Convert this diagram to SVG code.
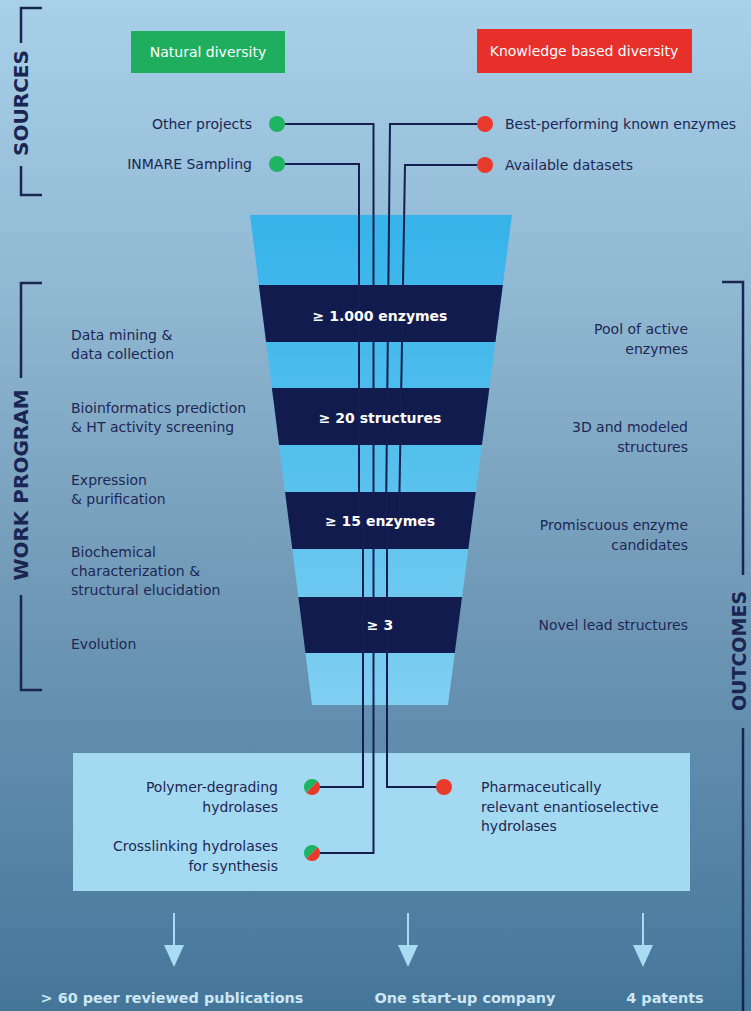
<svg xmlns="http://www.w3.org/2000/svg" width="751" height="1011" viewBox="0 0 751 1011">
<defs>
<linearGradient id="bg" x1="0" y1="0" x2="0" y2="1">
<stop offset="0" stop-color="#a8d0e9"/>
<stop offset="0.3" stop-color="#8fb7d2"/>
<stop offset="0.6" stop-color="#6f98b6"/>
<stop offset="1" stop-color="#44769a"/>
</linearGradient>
<linearGradient id="fun" x1="0" y1="0" x2="0" y2="1">
<stop offset="0" stop-color="#36b3ea"/>
<stop offset="0.5" stop-color="#55c0ee"/>
<stop offset="1" stop-color="#80cff1"/>
</linearGradient>
<clipPath id="funclip"><polygon points="250,215 512,215 448,705 312,705"/></clipPath>
<style>
.lbl{font-family:"DejaVu Sans",sans-serif;font-size:14px;fill:#1d2754}
.hdr{font-family:"DejaVu Sans",sans-serif;font-size:20px;font-weight:bold;fill:#1b2552}
.band{font-family:"DejaVu Sans",sans-serif;font-size:14px;font-weight:bold;fill:#ffffff;text-anchor:middle}
.wht{font-family:"DejaVu Sans",sans-serif;font-size:14px;fill:#ffffff;text-anchor:middle}
.out{font-family:"DejaVu Sans",sans-serif;font-size:14.4px;font-weight:bold;fill:#cde6f5;text-anchor:middle}
.br{fill:none;stroke:#1b2552;stroke-width:2.5}
.con{fill:none;stroke:#141e50;stroke-width:2}
.dk{fill:#121b4d}
.g{fill:#1fb464}
.r{fill:#e83a2a}
.arr{stroke:#a8dcf2;stroke-width:2;fill:none}
.ah{fill:#a8dcf2}
</style>
</defs>
<rect x="0" y="0" width="751" height="1011" fill="url(#bg)"/>

<g id="sources-bracket">
<path class="br" d="M42,8 H21 V43 M21,166 V195 H42"/>
<text class="hdr" transform="translate(28,103) rotate(-90)" text-anchor="middle">SOURCES</text>
</g>
<g id="workprogram-bracket">
<path class="br" d="M42,283 H21 V378 M21,595 V690 H42"/>
<text class="hdr" transform="translate(28,485) rotate(-90)" text-anchor="middle">WORK PROGRAM</text>
</g>
<g id="outcomes-bracket">
<path class="br" d="M722,282 H743 V575 M743,728 V1011"/>
<text class="hdr" transform="translate(746,651) rotate(-90)" text-anchor="middle" style="font-size:19px">OUTCOMES</text>
</g>

<g id="natural-diversity">
<rect x="131" y="31" width="154" height="42" fill="#1fae5d"/>
<text class="wht" x="208" y="57">Natural diversity</text>
</g>
<g id="knowledge-diversity">
<rect x="477" y="29" width="215" height="44" fill="#e8302a"/>
<text class="wht" x="584" y="56">Knowledge based diversity</text>
</g>

<g id="funnel">
<polygon points="250,215 512,215 448,705 312,705" fill="url(#fun)"/>
<g clip-path="url(#funclip)">
<rect class="dk" x="240" y="285" width="280" height="57"/>
<rect class="dk" x="240" y="388" width="280" height="57"/>
<rect class="dk" x="240" y="492" width="280" height="57"/>
<rect class="dk" x="240" y="597" width="280" height="56"/>
</g>
</g>

<g id="outcome-box">
<rect x="73" y="753" width="617" height="138" fill="#a4d9f2"/>
</g>

<g id="connectors">
<path class="con" d="M284,124 H373.5 V853 H318"/>
<path class="con" d="M284,164 H359 V520 H363 V787 H318"/>
<path class="con" d="M477,124 H390 L386,520 H387 V787 H438"/>
<path class="con" d="M477,165 H405 L399,520"/>
</g>

<g id="band-labels">
<text class="band" x="380" y="321">≥ 1.000 enzymes</text>
<text class="band" x="380" y="423">≥ 20 structures</text>
<text class="band" x="380" y="526">≥ 15 enzymes</text>
<text class="band" x="380" y="630">≥ 3</text>
</g>

<g id="src-other">
<text class="lbl" x="252" y="129" text-anchor="end">Other projects</text>
<circle class="g" cx="277" cy="124" r="8"/>
</g>
<g id="src-inmare">
<text class="lbl" x="252" y="169" text-anchor="end">INMARE Sampling</text>
<circle class="g" cx="277" cy="164" r="8"/>
</g>
<g id="src-best">
<circle class="r" cx="485" cy="124" r="8"/>
<text class="lbl" x="505" y="129">Best-performing known enzymes</text>
</g>
<g id="src-datasets">
<circle class="r" cx="485" cy="165" r="8"/>
<text class="lbl" x="505" y="170">Available datasets</text>
</g>

<g id="work-steps">
<text class="lbl" x="71" y="340">Data mining &amp;</text>
<text class="lbl" x="71" y="359">data collection</text>
<text class="lbl" x="71" y="413">Bioinformatics prediction</text>
<text class="lbl" x="71" y="432">&amp; HT activity screening</text>
<text class="lbl" x="71" y="485">Expression</text>
<text class="lbl" x="71" y="504">&amp; purification</text>
<text class="lbl" x="71" y="557">Biochemical</text>
<text class="lbl" x="71" y="576">characterization &amp;</text>
<text class="lbl" x="71" y="595">structural  elucidation</text>
<text class="lbl" x="71" y="649">Evolution</text>
</g>

<g id="outcome-labels">
<text class="lbl" x="688" y="334" text-anchor="end">Pool of active</text>
<text class="lbl" x="688" y="354" text-anchor="end">enzymes</text>
<text class="lbl" x="688" y="432" text-anchor="end">3D and modeled</text>
<text class="lbl" x="688" y="452" text-anchor="end">structures</text>
<text class="lbl" x="688" y="530" text-anchor="end">Promiscuous enzyme</text>
<text class="lbl" x="688" y="550" text-anchor="end">candidates</text>
<text class="lbl" x="688" y="630" text-anchor="end">Novel lead structures</text>
</g>

<g id="polymer">
<text class="lbl" x="278" y="792" text-anchor="end">Polymer-degrading</text>
<text class="lbl" x="278" y="812" text-anchor="end">hydrolases</text>
<path class="g" d="M306.3,792.7 A8,8 0 0 1 317.7,781.3 Z"/>
<path class="r" d="M317.7,781.3 A8,8 0 0 1 306.3,792.7 Z"/>
</g>
<g id="crosslinking">
<text class="lbl" x="278" y="851" text-anchor="end">Crosslinking hydrolases</text>
<text class="lbl" x="278" y="871" text-anchor="end">for synthesis</text>
<path class="g" d="M306.3,858.7 A8,8 0 0 1 317.7,847.3 Z"/>
<path class="r" d="M317.7,847.3 A8,8 0 0 1 306.3,858.7 Z"/>
</g>
<g id="pharma">
<circle class="r" cx="444" cy="787" r="8"/>
<text class="lbl" x="481" y="792">Pharmaceutically</text>
<text class="lbl" x="481" y="812">relevant enantioselective</text>
<text class="lbl" x="481" y="831">hydrolases</text>
</g>

<g id="arrows">
<path class="arr" d="M174,913 V950 M408,913 V950 M643,913 V950"/>
<polygon class="ah" points="164,945 184,945 174,967"/>
<polygon class="ah" points="398,945 418,945 408,967"/>
<polygon class="ah" points="633,945 653,945 643,967"/>
</g>
<g id="publications"><text class="out" x="172" y="1003">&gt; 60 peer reviewed publications</text></g>
<g id="startup"><text class="out" x="465" y="1003">One start-up company</text></g>
<g id="patents"><text class="out" x="665" y="1003">4 patents</text></g>
</svg>
